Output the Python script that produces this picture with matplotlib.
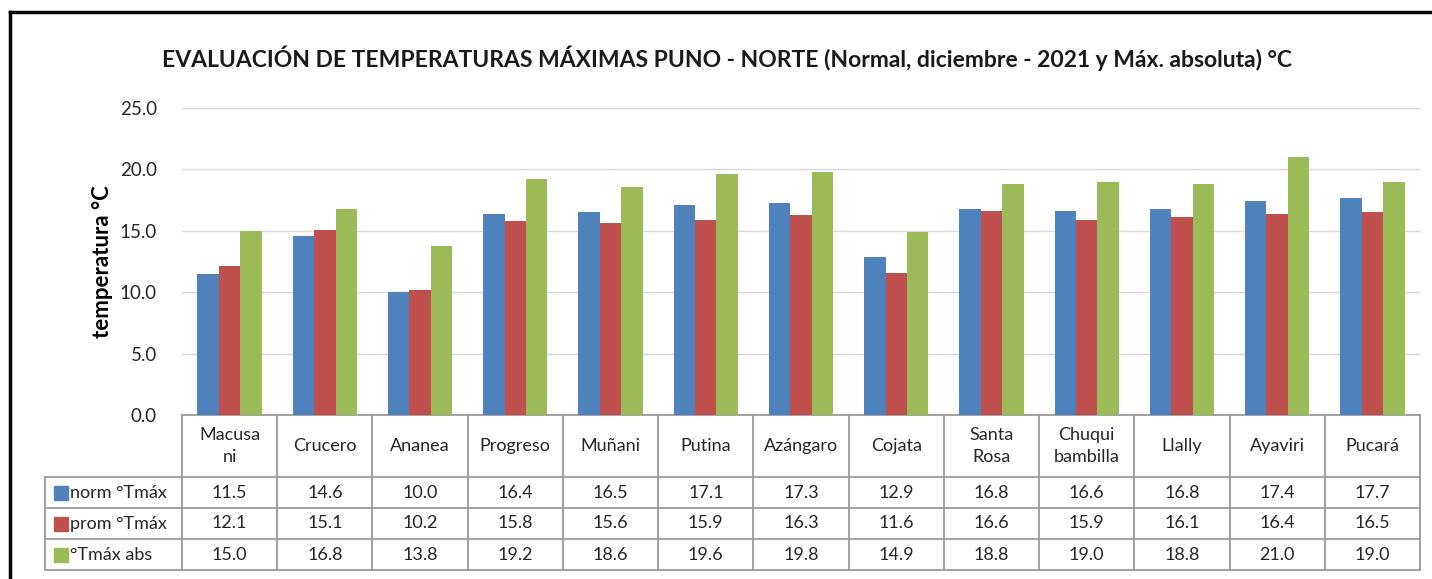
import matplotlib
matplotlib.use("Agg")
import matplotlib.pyplot as plt
import numpy as np

plt.rcParams['font.family'] = ['Lato', 'DejaVu Sans']

stations = ["Macusa\nni", "Crucero", "Ananea", "Progreso", "Muñani", "Putina", "Azángaro",
            "Cojata", "Santa\nRosa", "Chuqui\nbambilla", "Llally", "Ayaviri", "Pucará"]
norm_tmax = [11.5, 14.6, 10.0, 16.4, 16.5, 17.1, 17.3, 12.9, 16.8, 16.6, 16.8, 17.4, 17.7]
prom_tmax = [12.1, 15.1, 10.2, 15.8, 15.6, 15.9, 16.3, 11.6, 16.6, 15.9, 16.1, 16.4, 16.5]
abs_tmax = [15.0, 16.8, 13.8, 19.2, 18.6, 19.6, 19.8, 14.9, 18.8, 19.0, 18.8, 21.0, 19.0]
series_names = ["norm °Tmáx", "prom °Tmáx", "°Tmáx abs"]
colors = ["#4F81BD", "#C0504D", "#9BBB59"]

W, H = 1432, 579
fig = plt.figure(figsize=(W / 100, H / 100), dpi=100)

# axes placed in pixel coords of the reference
x0, x1, ytop, ybot = 182, 1420, 108, 415
ax = fig.add_axes([x0 / W, 1 - ybot / H, (x1 - x0) / W, (ybot - ytop) / H])

n = len(stations)
x = np.arange(n)
bw = 0.225
for k, vals in enumerate([norm_tmax, prom_tmax, abs_tmax]):
    ax.bar(x + (k - 1) * bw, vals, width=bw, color=colors[k], zorder=3)

ax.set_xlim(-0.5, n - 0.5)
ax.set_ylim(0, 25)
ax.set_yticks(np.arange(0, 26, 5))
ax.set_yticklabels([f"{v:.1f}" for v in np.arange(0, 26, 5)], fontsize=13.5, color="#262626")
ax.tick_params(axis="y", length=0, pad=18)
ax.set_xticks([])
ax.grid(axis="y", color="#D9D9D9", linewidth=1, zorder=0)
for s in ax.spines.values():
    s.set_visible(False)
ax.set_ylabel("temperatura °C", fontsize=16, fontweight="bold")
ax.yaxis.set_label_coords((113 - x0) / (x1 - x0), 0.5)

fig.text(727 / W, 1 - 58 / H,
         "EVALUACIÓN DE TEMPERATURAS MÁXIMAS PUNO - NORTE (Normal, diciembre - 2021 y Máx. absoluta) °C",
         fontsize=16.5, fontweight="bold", color="#1a1a1a", ha="center", va="center")

# data table under the axis (axes fraction coords)
axh = ybot - ytop
axw = x1 - x0
hdr = 62 / axh
row = 31 / axh
left = (45 - x0) / axw
lc = "#9a9a9a"
tkw = dict(transform=ax.transAxes, clip_on=False, color=lc, linewidth=1.3)
fs = 13

y_hdr_bot = -hdr
ys = [0, y_hdr_bot, y_hdr_bot - row, y_hdr_bot - 2 * row, y_hdr_bot - 3 * row]
ax.plot([0, 1], [0, 0], **tkw)
for yy in ys[1:]:
    ax.plot([left, 1], [yy, yy], **tkw)
ax.plot([left, left], [ys[1], ys[-1]], **tkw)
for i in range(n + 1):
    xx = i / n
    ax.plot([xx, xx], [0, ys[-1]], **tkw)

for i, name in enumerate(stations):
    ax.text((i + 0.5) / n, -hdr / 2, name, transform=ax.transAxes, ha="center", va="center",
            fontsize=fs, color="#262626", linespacing=1.45)

for r, vals in enumerate([norm_tmax, prom_tmax, abs_tmax]):
    yc = y_hdr_bot - (r + 0.5) * row
    for i, v in enumerate(vals):
        ax.text((i + 0.5) / n, yc, f"{v:.1f}", transform=ax.transAxes, ha="center", va="center",
                fontsize=fs, color="#262626")
    ax.add_patch(plt.Rectangle((left + 9 / axw, yc - 7 / axh), 14 / axw, 14 / axh,
                               transform=ax.transAxes, clip_on=False, color=colors[r]))
    ax.text(left + 25 / axw, yc, series_names[r], transform=ax.transAxes, ha="left", va="center",
            fontsize=fs, color="#262626")

# outer frame (top and left edge of the chart box)
fig.add_artist(plt.Line2D([10 / W, 1], [1 - 12 / H, 1 - 12 / H], color="black", linewidth=2.5))
fig.add_artist(plt.Line2D([10 / W, 10 / W], [0, 1 - 12 / H], color="black", linewidth=2.5))

fig.savefig("out.png", dpi=100)
